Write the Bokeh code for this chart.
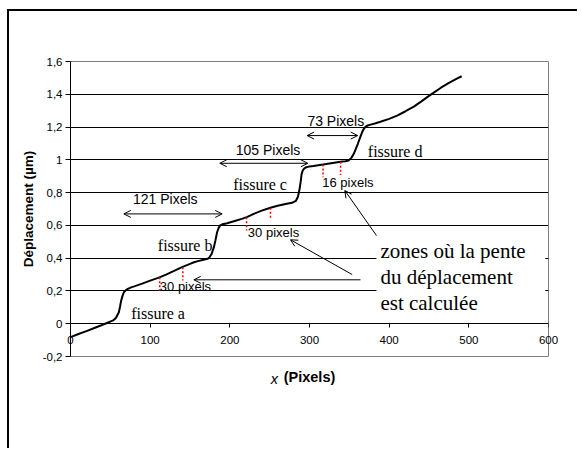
from bokeh.plotting import figure
from bokeh.models import Range1d, FixedTicker, Label, Arrow, OpenHead, LinearAxis
from bokeh.embed import file_html
from bokeh.resources import INLINE

# --- data ---
curve_x = [0, 10, 20, 30, 38, 45, 53.5, 57, 60.7, 62.2, 63.6, 65.3, 67, 69.5, 72, 76, 80,
           90, 100, 110, 120, 130, 140, 150, 155, 160, 167, 172, 174, 177, 180, 182, 184,
           186, 188, 191, 196.7, 205, 215, 222, 230, 240, 251, 260, 270, 278, 283, 285.5,
           287.5, 289, 290, 291.5, 293.5, 296, 300, 305, 317, 325, 339, 345, 349, 352.5,
           355.6, 358, 360.7, 363.5, 366, 368, 370, 373, 376.6, 382, 389, 400, 410, 420,
           431, 440, 450, 456, 465, 475, 485, 491]
curve_y = [-0.082, -0.063, -0.045, -0.026, -0.011, 0.003, 0.02, 0.035, 0.07, 0.105, 0.141,
           0.17, 0.192, 0.205, 0.213, 0.222, 0.228, 0.245, 0.263, 0.28, 0.3, 0.322, 0.345,
           0.365, 0.375, 0.382, 0.39, 0.396, 0.402, 0.425, 0.467, 0.51, 0.558, 0.585, 0.6,
           0.607, 0.613, 0.625, 0.64, 0.652, 0.67, 0.69, 0.708, 0.72, 0.73, 0.738, 0.75,
           0.775, 0.82, 0.87, 0.91, 0.935, 0.948, 0.955, 0.96, 0.963, 0.971, 0.978, 0.988,
           0.991, 0.996, 1.012, 1.037, 1.065, 1.098, 1.135, 1.168, 1.188, 1.2, 1.21, 1.215,
           1.222, 1.232, 1.25, 1.27, 1.295, 1.325, 1.355, 1.39, 1.41, 1.44, 1.47, 1.495, 1.51]

zone_x = [112, 141, 221, 251, 317, 339]
zone_top = [0.284, 0.345, 0.65, 0.707, 0.971, 0.988]
zone_bottom = [0.203, 0.264, 0.569, 0.634, 0.894, 0.908]

y_ticks = [-0.2, 0, 0.2, 0.4, 0.6, 0.8, 1, 1.2, 1.4, 1.6]
y_tick_labels = ["-0,2", "0", "0,2", "0,4", "0,6", "0,8", "1", "1,2", "1,4", "1,6"]
grid_ticks = [0, 0.2, 0.4, 0.6, 0.8, 1, 1.2, 1.4]
x_ticks = [0, 100, 200, 300, 400, 500, 600]
x_title_var = "x"
x_title_var_pos = 256
x_title_unit = "(Pixels)"

# measured spans (double arrows): text, text x, text y, arrow y, x start, x end
span_texts = ["121 Pixels", "105 Pixels", "73 Pixels"]
span_text_x = [119, 248, 333]
span_text_y = [0.764, 1.057, 1.234]
span_arrow_y = [0.67, 0.979, 1.148]
span_x0 = [66.9, 187.4, 297]
span_x1 = [190.4, 297.9, 360.6]

fissure_texts = ["fissure a", "fissure b", "fissure c", "fissure d"]
fissure_x = [76.2, 109.6, 204.2, 373.2]
fissure_y = [0.06, 0.477, 0.847, 1.051]

zone_texts = ["30 pixels", "30 pixels", "16 pixels"]
zone_text_x = [112.1, 222.6, 316]
zone_text_y = [0.227, 0.558, 0.863]

note_lines = ["zones où la pente", "du déplacement", "est calculée"]
note_x = 389
note_y = [0.442, 0.284, 0.125]
note_box = [384, 596, 0.05, 0.565]   # left, right, bottom, top

pointer_x0 = [364, 353.6, 384.1]
pointer_y0 = [0.268, 0.30, 0.538]
pointer_x1 = [154.8, 276.1, 344.3]
pointer_y1 = [0.268, 0.512, 0.813]

SANS = "Liberation Sans"
SERIF = "Liberation Serif"

p = figure(width=570, height=439, output_backend="svg", toolbar_location=None,
           x_range=Range1d(0, 600), y_range=Range1d(-0.2, 1.6),
           min_border_left=61, min_border_right=31, min_border_top=50, min_border_bottom=94)
p.styles = {"margin-left": "7px", "margin-top": "9px",
            "border-left": "2px solid black", "border-top": "2px solid black"}
p.background_fill_color = "white"
p.border_fill_color = "white"
p.outline_line_color = "#808080"
p.outline_line_width = 1

p.xgrid.visible = False
p.ygrid.ticker = FixedTicker(ticks=grid_ticks)
p.ygrid.grid_line_color = "black"
p.ygrid.grid_line_width = 1

# y axis
p.yaxis.ticker = FixedTicker(ticks=y_ticks)
p.yaxis.major_label_overrides = {t: l for t, l in zip(y_ticks, y_tick_labels)}
p.yaxis.minor_tick_line_color = None
p.yaxis.major_tick_out = 5
p.yaxis.major_tick_in = 0
p.yaxis.major_label_standoff = 3
p.yaxis.axis_line_color = "black"
p.yaxis.major_tick_line_color = "black"
p.yaxis.major_label_text_font = SANS
p.yaxis.major_label_text_font_size = "11.5px"
p.yaxis.major_label_text_color = "black"
p.yaxis.axis_label = "Déplacement (µm)"
p.yaxis.axis_label_text_font = SANS
p.yaxis.axis_label_text_font_style = "bold"
p.yaxis.axis_label_text_font_size = "13.5px"
p.yaxis.axis_label_text_color = "black"
p.yaxis.axis_label_standoff = 4

# x axis line and ticks crossing at y = 0
p.xaxis.ticker = FixedTicker(ticks=x_ticks)
p.xaxis.fixed_location = 0
p.xaxis.minor_tick_line_color = None
p.xaxis.major_tick_out = 4
p.xaxis.major_tick_in = 0
p.xaxis.axis_line_color = "black"
p.xaxis.major_tick_line_color = "black"
p.xaxis.major_label_text_alpha = 0

# second x axis: tick labels + bold unit title (unclipped)
xlab = LinearAxis(ticker=FixedTicker(ticks=x_ticks), axis_line_color=None,
                  major_tick_line_color=None, minor_tick_line_color=None,
                  major_tick_out=0, major_tick_in=0, major_label_standoff=-21,
                  major_label_text_font=SANS, major_label_text_font_size="11.5px",
                  major_label_text_color="black",
                  axis_label=x_title_unit, axis_label_text_font=SANS,
                  axis_label_text_font_style="bold", axis_label_text_font_size="14.5px",
                  axis_label_text_color="black", axis_label_standoff=22)
p.add_layout(xlab, "below")

# third x axis: italic variable name of the x title
xvar = LinearAxis(ticker=FixedTicker(ticks=[x_title_var_pos]), axis_line_color=None,
                  major_tick_line_color=None, minor_tick_line_color=None,
                  major_tick_out=0, major_tick_in=0, major_label_standoff=-17,
                  major_label_overrides={x_title_var_pos: x_title_var},
                  major_label_text_font=SANS, major_label_text_font_style="italic",
                  major_label_text_font_size="14.5px", major_label_text_color="black")
p.add_layout(xvar, "below")

# white box behind the note text
p.quad(left=[note_box[0]], right=[note_box[1]], bottom=[note_box[2]], top=[note_box[3]],
       fill_color="white", line_color=None)

# curve
p.line(curve_x, curve_y, line_color="black", line_width=2)

# red dotted zone markers
p.segment(x0=zone_x, y0=zone_top, x1=zone_x, y1=zone_bottom,
          line_color="red", line_dash="2 2", line_width=1.5)

# double arrows for spans
for tx, ty, t, ay, x0, x1 in zip(span_text_x, span_text_y, span_texts, span_arrow_y, span_x0, span_x1):
    p.add_layout(Arrow(x_start=x0, y_start=ay, x_end=x1, y_end=ay, line_width=1, line_color="black",
                       start=OpenHead(size=7, line_width=1, line_color="black"),
                       end=OpenHead(size=7, line_width=1, line_color="black")))
    p.add_layout(Label(x=tx, y=ty, text=t, text_align="center", text_baseline="middle",
                       text_font=SANS, text_font_size="14px", text_color="black"))

for t, x, y in zip(fissure_texts, fissure_x, fissure_y):
    p.add_layout(Label(x=x, y=y, text=t, text_align="left", text_baseline="alphabetic",
                       text_font=SERIF, text_font_size="16px", text_color="black"))

for t, x, y in zip(zone_texts, zone_text_x, zone_text_y):
    p.add_layout(Label(x=x, y=y, text=t, text_align="left", text_baseline="middle",
                       text_font=SANS, text_font_size="13px", text_color="black"))

for t, y in zip(note_lines, note_y):
    p.add_layout(Label(x=note_x, y=y, text=t, text_align="left", text_baseline="alphabetic",
                       text_font=SERIF, text_font_size="21px", text_color="black"))

for x0, y0, x1, y1 in zip(pointer_x0, pointer_y0, pointer_x1, pointer_y1):
    p.add_layout(Arrow(x_start=x0, y_start=y0, x_end=x1, y_end=y1, line_width=1, line_color="black",
                       end=OpenHead(size=7, line_width=1, line_color="black")))

open("out.html", "w").write(file_html(p, INLINE))
